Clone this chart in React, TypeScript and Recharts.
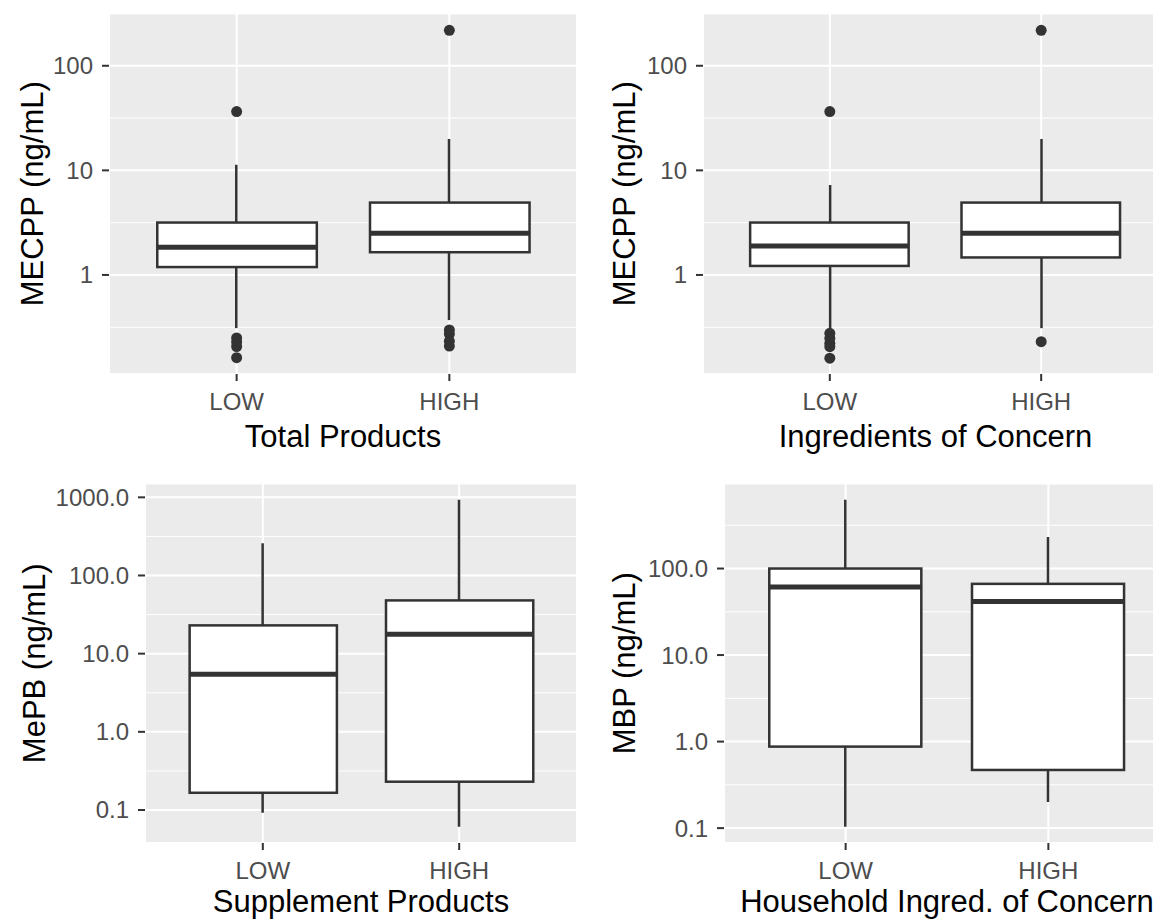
import React from 'react';
import { ComposedChart, Bar, Scatter, XAxis, YAxis, CartesianGrid, Label } from 'recharts';

const INK = '#333333';
const TICK_TEXT = '#4D4D4D';
const PANEL = '#EBEBEB';
const FONT = '"Liberation Sans", Arial, sans-serif';

const groups = ['LOW', 'HIGH'];

// Total Products – MECPP (ng/mL)
const totalMin = [0.31, 0.37];
const totalQ1 = [1.19, 1.65];
const totalMedian = [1.84, 2.5];
const totalQ3 = [3.17, 4.92];
const totalMax = [11.3, 19.9];
const totalOutLow = [36.5, 0.25, 0.228, 0.207, 0.162];
const totalOutHigh = [218, 0.298, 0.272, 0.233, 0.209];

// Ingredients of Concern – MECPP (ng/mL)
const concernMin = [0.31, 0.31];
const concernQ1 = [1.22, 1.47];
const concernMedian = [1.89, 2.5];
const concernQ3 = [3.17, 4.92];
const concernMax = [7.26, 19.9];
const concernOutLow = [36.5, 0.277, 0.248, 0.222, 0.206, 0.16];
const concernOutHigh = [218, 0.23];

// Supplement Products – MePB (ng/mL)
const supplMin = [0.092, 0.061];
const supplQ1 = [0.166, 0.23];
const supplMedian = [5.46, 17.7];
const supplQ3 = [23, 48];
const supplMax = [259, 930];

// Household Ingred. of Concern – MBP (ng/mL)
const houseMin = [0.104, 0.2];
const houseQ1 = [0.875, 0.47];
const houseMedian = [61, 41.5];
const houseQ3 = [100, 66.5];
const houseMax = [622, 231];

const ticksSmall = [1, 10, 100];
const minorSmall = [0.316, 3.16, 31.6, 316];
const ticksWide = [0.1, 1, 10, 100, 1000];
const minorWide = [0.316, 3.16, 31.6, 316];
const ticksHouse = [0.1, 1, 10, 100];

const makeRows = (mn: number[], q1: number[], med: number[], q3: number[], mx: number[]) =>
  groups.map((g, i) => ({ cat: g, whisker: [mn[i], mx[i]], box: [q1[i], q3[i]], median: med[i] }));

const makeOutliers = (low: number[], high: number[]) => [
  ...low.map((v) => ({ cat: 'LOW', v })),
  ...high.map((v) => ({ cat: 'HIGH', v })),
];

interface PanelProps {
  left: number;
  top: number;
  width: number;
  height: number;
  marginTop: number;
  marginRight: number;
  yAxisWidth: number;
  xAxisHeight: number;
  domain: [number, number];
  ticks: number[];
  minor: number[];
  decimals: number;
  yTitle: string;
  xTitle: string;
  yTitleX: number;
  xTitleY: number;
  rows: any[];
  outliers?: any[];
}

const BoxPanel: React.FC<PanelProps> = (p) => {
  const plotW = p.width - p.marginRight - p.yAxisWidth;
  const unit = plotW / 2.2;
  const pad = unit * 0.1;
  const boxW = unit * 0.75;

  const whiskerShape = (s: any) => {
    const cx = s.x + s.width / 2;
    return <line x1={cx} x2={cx} y1={s.y} y2={s.y + s.height} stroke={INK} strokeWidth={2.5} />;
  };
  const boxShape = (s: any) => (
    <rect x={s.x} y={s.y} width={s.width} height={s.height} fill="#fff" stroke={INK} strokeWidth={2.5} />
  );
  const medianShape = (s: any) => (
    <line x1={s.cx - boxW / 2} x2={s.cx + boxW / 2} y1={s.cy} y2={s.cy} stroke={INK} strokeWidth={5} />
  );
  const pointShape = (s: any) => <circle cx={s.cx} cy={s.cy} r={5.5} fill={INK} />;

  return (
    <div style={{ position: 'absolute', left: p.left, top: p.top }}>
      <ComposedChart
        width={p.width}
        height={p.height}
        data={p.rows}
        margin={{ top: p.marginTop, right: p.marginRight, bottom: 0, left: 0 }}
      >
        <CartesianGrid fill={PANEL} stroke="#fff" strokeWidth={2} />
        <CartesianGrid stroke="#fff" strokeWidth={1} vertical={false} horizontalValues={p.minor} />
        <XAxis
          dataKey="cat"
          padding={{ left: pad, right: pad }}
          height={p.xAxisHeight}
          axisLine={false}
          tickLine={{ stroke: INK, strokeWidth: 2 }}
          tickSize={7}
          tickMargin={12}
          interval={0}
          tick={{ fill: TICK_TEXT, fontSize: 24 }}
        >
          <Label
            content={(lp: any) => {
              const vb = lp.viewBox;
              return (
                <text x={vb.x + vb.width / 2} y={vb.y + p.xTitleY} textAnchor="middle" fontSize={31} fill="#000">
                  {p.xTitle}
                </text>
              );
            }}
          />
        </XAxis>
        <XAxis xAxisId="w" dataKey="cat" hide padding={{ left: pad, right: pad }} />
        <XAxis xAxisId="o" dataKey="cat" hide padding={{ left: pad, right: pad }} allowDuplicatedCategory={false} />
        <YAxis
          type="number"
          scale="log"
          domain={p.domain}
          allowDataOverflow
          ticks={p.ticks}
          interval={0}
          width={p.yAxisWidth}
          axisLine={false}
          tickLine={{ stroke: INK, strokeWidth: 2 }}
          tickSize={7}
          tickMargin={9}
          tick={{ fill: TICK_TEXT, fontSize: 24 }}
          tickFormatter={(v: number) => v.toFixed(p.decimals)}
        >
          <Label
            content={(lp: any) => {
              const vb = lp.viewBox;
              const x = vb.x + p.yTitleX;
              const y = vb.y + vb.height / 2;
              return (
                <text x={x} y={y} transform={`rotate(-90, ${x}, ${y})`} textAnchor="middle" fontSize={31} fill="#000">
                  {p.yTitle}
                </text>
              );
            }}
          />
        </YAxis>
        <Bar xAxisId="w" dataKey="whisker" barSize={4} shape={whiskerShape} isAnimationActive={false} />
        <Bar dataKey="box" barSize={boxW} shape={boxShape} isAnimationActive={false} />
        <Scatter dataKey="median" shape={medianShape} isAnimationActive={false} />
        {p.outliers && (
          <Scatter xAxisId="o" data={p.outliers} dataKey="v" shape={pointShape} isAnimationActive={false} />
        )}
      </ComposedChart>
    </div>
  );
};

export default function App() {
  return (
    <div
      style={{
        position: 'absolute',
        left: 0,
        top: 0,
        width: 1153,
        height: 920,
        overflow: 'hidden',
        background: '#fff',
        fontFamily: FONT,
      }}
    >
      <BoxPanel
        left={0}
        top={0}
        width={580}
        height={460}
        marginTop={13.5}
        marginRight={3}
        yAxisWidth={109}
        xAxisHeight={86}
        domain={[0.113, 316]}
        ticks={ticksSmall}
        minor={minorSmall}
        decimals={0}
        yTitle="MECPP (ng/mL)"
        xTitle="Total Products"
        yTitleX={42.5}
        xTitleY={73}
        rows={makeRows(totalMin, totalQ1, totalMedian, totalQ3, totalMax)}
        outliers={makeOutliers(totalOutLow, totalOutHigh)}
      />
      <BoxPanel
        left={580}
        top={0}
        width={600}
        height={460}
        marginTop={13.5}
        marginRight={12}
        yAxisWidth={123}
        xAxisHeight={86}
        domain={[0.113, 316]}
        ticks={ticksSmall}
        minor={minorSmall}
        decimals={0}
        yTitle="MECPP (ng/mL)"
        xTitle="Ingredients of Concern"
        yTitleX={55}
        xTitleY={73}
        rows={makeRows(concernMin, concernQ1, concernMedian, concernQ3, concernMax)}
        outliers={makeOutliers(concernOutLow, concernOutHigh)}
      />
      <BoxPanel
        left={0}
        top={460}
        width={580}
        height={460}
        marginTop={23.5}
        marginRight={3}
        yAxisWidth={145}
        xAxisHeight={77}
        domain={[0.0378, 1503]}
        ticks={ticksWide}
        minor={minorWide}
        decimals={1}
        yTitle="MePB (ng/mL)"
        xTitle="Supplement Products"
        yTitleX={44.5}
        xTitleY={69}
        rows={makeRows(supplMin, supplQ1, supplMedian, supplQ3, supplMax)}
      />
      <BoxPanel
        left={580}
        top={460}
        width={600}
        height={460}
        marginTop={23.5}
        marginRight={10}
        yAxisWidth={144}
        xAxisHeight={77}
        domain={[0.0673, 961]}
        ticks={ticksHouse}
        minor={minorWide}
        decimals={1}
        yTitle="MBP (ng/mL)"
        xTitle="Household Ingred. of Concern"
        yTitleX={55}
        xTitleY={69}
        rows={makeRows(houseMin, houseQ1, houseMedian, houseQ3, houseMax)}
      />
    </div>
  );
}
